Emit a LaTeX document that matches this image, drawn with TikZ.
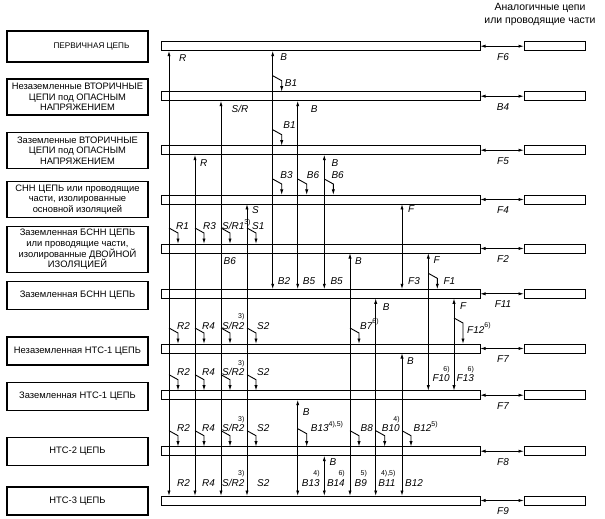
\documentclass[tikz,border=0pt]{standalone}
\usepackage{fontspec}
\setmainfont{Liberation Sans}
\usetikzlibrary{arrows.meta,calc}
\newcount\nn
\newcommand\rs[1]{\raisebox{5.5bp}{\fontsize{7}{7}\selectfont\upshape #1}}
\newcommand\as[1]{\smash{\llap{\raisebox{10.5bp}{\fontsize{7}{7}\selectfont\upshape #1}}}}
\newcommand\lb[4]{\global\advance\nn by 1 \node[lab] (t\the\nn) at ($(#1)+(#2,#3)$) {#4};}
\newcommand\vl[3]{\draw[ln,dtip] (#1 |- #2.south) -- (#1 |- #3.north);}
\newcommand\mk[3]{\draw[ln,tip] ($(#1 |- #2.north)+(0,-#3)$) -- ++(9,5) -- ($(#1 |- #2.north)+(9,0)$);}
\tikzset{
 box/.style={draw, line width=1.2bp, minimum width=141bp, inner sep=1bp, outer sep=0, align=center, font=\fontsize{9.4}{10.6}\selectfont},
 bar/.style={draw, line width=0.9bp, minimum width=319bp, minimum height=9bp, inner sep=0, outer sep=0},
 rbar/.style={bar, minimum width=61bp},
 ln/.style={line width=0.9bp},
 tip/.style={-{Latex[length=5.5bp,width=3.2bp]}},
 dtip/.style={{Latex[length=5.5bp,width=3.2bp]}-{Latex[length=5.5bp,width=3.2bp]}},
 lab/.style={font=\fontsize{10}{10}\selectfont\itshape, inner sep=0, anchor=base west},
 rlab/.style={lab, anchor=base},
}
\begin{document}
\begin{tikzpicture}[x=1bp,y=-1bp]
\useasboundingbox (0,0) rectangle (605,519);
\foreach \i/\x in {1/169,2/195,3/221,4/247,5/272.7,6/297.7,7/324.3,8/350,9/375.7,10/402,11/428.3,12/454}
  \coordinate (c\i) at (\x,0);
\coordinate (rx) at (503,0);

% header
\node[font=\fontsize{10.5}{13}\selectfont, align=center] (hdr) at (540,14.5) {Аналогичные цепи\\или проводящие части};

% left boxes
\node[box, minimum height=31bp, font=\fontsize{8.2}{9.5}\selectfont] (p1) at (77.5,46.5) {\hspace*{28bp}ПЕРВИЧНАЯ ЦЕПЬ};
\node[box, minimum height=36bp] (p2) at (77.5,97) {Незаземленные ВТОРИЧНЫЕ\\ЦЕПИ под ОПАСНЫМ\\НАПРЯЖЕНИЕМ};
\node[box, minimum height=36bp] (p3) at (77.5,150.5) {Заземленные ВТОРИЧНЫЕ\\ЦЕПИ под ОПАСНЫМ\\НАПРЯЖЕНИЕМ};
\node[box, minimum height=36bp] (p4) at (77.5,199.5) {СНН ЦЕПЬ или проводящие\\части, изолированные\\основной изоляцией};
\node[box, minimum height=46bp] (p5) at (77.5,249.5) {Заземленная БСНН ЦЕПЬ\\или проводящие части,\\изолированные ДВОЙНОЙ\\ИЗОЛЯЦИЕЙ};
\node[box, minimum height=28bp] (p6) at (77.5,295.5) {Заземленная БСНН ЦЕПЬ};
\node[box, minimum height=28bp] (p7) at (77.5,351) {Незаземленная НТС-1 ЦЕПЬ};
\node[box, minimum height=28bp] (p8) at (77.5,396.5) {Заземленная НТС-1 ЦЕПЬ};
\node[box, minimum height=28bp] (p9) at (77.5,451.5) {НТС-2 ЦЕПЬ};
\node[box, minimum height=28bp] (p10) at (77.5,501) {НТС-3 ЦЕПЬ};

% bars
\foreach \i/\y/\t in {1/46.2/F6,2/96.2/B4,3/150.2/F5,4/199.5/F4,5/248.5/F2,6/293.8/F11,7/348.5/F7,8/395.2/F7,9/451.2/F8,10/500.5/F9}{
  \node[bar] (b\i) at (320.5,\y) {};
  \node[rbar] (r\i) at (554.5,\y) {};
  \draw[ln,dtip] (b\i.east) -- (r\i.west);
  \node[rlab] (f\i) at ($(rx |- b\i.south)+(0,9.5)$) {\t};
}

% vertical connectors
\vl{c1}{b1}{b10}
\vl{c2}{b3}{b10}
\vl{c3}{b2}{b10}
\vl{c4}{b4}{b10}
\vl{c5}{b1}{b6}
\vl{c6}{b2}{b6}
\vl{c7}{b3}{b6}
\vl{c8}{b5}{b10}
\vl{c9}{b6}{b10}
\vl{c10}{b4}{b6}
\vl{c10}{b7}{b10}
\vl{c11}{b5}{b8}
\vl{c12}{b6}{b8}
\vl{c6}{b8}{b10}
\vl{c7}{b9}{b10}

% labels below upper ends
\lb{c1 |- b1.south}{10}{11}{R}
\lb{c5 |- b1.south}{7.5}{10}{B}
\lb{c3 |- b2.south}{10.5}{11.5}{S/R}
\lb{c6 |- b2.south}{13}{11.5}{B}
\lb{c2 |- b3.south}{5}{12}{R}
\lb{c7 |- b3.south}{7}{11.5}{B}
\lb{c4 |- b4.south}{5}{9.5}{S}
\lb{c10 |- b4.south}{6}{9}{F}
\lb{c8 |- b5.south}{5}{11.5}{B}
\lb{c11 |- b5.south}{5}{10.5}{F}
\lb{c3 |- b5.south}{2.5}{11.5}{B6}
\lb{c9 |- b6.south}{7}{12}{B}
\lb{c12 |- b6.south}{6}{11}{F}
\lb{c10 |- b7.south}{5}{11.5}{B}
\lb{c6 |- b8.south}{5}{15.5}{B}
\lb{c7 |- b9.south}{5}{10}{B}

% labels above lower ends
\lb{c5 |- b6.north}{5}{-5}{B2}
\lb{c6 |- b6.north}{5}{-5}{B5}
\lb{c7 |- b6.north}{6}{-5}{B5}
\lb{c10 |- b6.north}{6}{-5}{F3}
\lb{c11 |- b8.north}{4}{-9}{F10\as{6)}}
\lb{c12 |- b8.north}{2.5}{-9}{F13\as{6)}}
\lb{c1 |- b10.north}{8}{-10}{R2}
\lb{c2 |- b10.north}{7}{-10}{R4}
\lb{c3 |- b10.north}{1}{-10}{S/R2\as{3)}}
\lb{c4 |- b10.north}{10}{-10}{S2}
\lb{c6 |- b10.north}{4}{-10}{B13\as{4)}}
\lb{c7 |- b10.north}{2.5}{-10}{B14\as{6)}}
\lb{c8 |- b10.north}{4.5}{-10}{B9\as{5)}}
\lb{c9 |- b10.north}{2.5}{-10}{B11\as{4),5)}}
\lb{c10 |- b10.north}{3}{-10}{B12}

% branch markers
\mk{c5}{b2}{16} \lb{c5 |- b2.north}{12}{-5}{B1}
\mk{c5}{b3}{16} \lb{c5 |- b3.north}{10.5}{-17}{B1}
\mk{c5}{b4}{16} \lb{c5 |- b4.north}{7.5}{-16.5}{B3}
\mk{c6}{b4}{16} \lb{c6 |- b4.north}{9}{-16.5}{B6}
\mk{c7}{b4}{16} \lb{c7 |- b4.north}{7}{-16.5}{B6}
\mk{c1}{b5}{16} \lb{c1 |- b5.north}{7}{-14}{R1}
\mk{c2}{b5}{16} \lb{c2 |- b5.north}{8}{-14}{R3}
\mk{c3}{b5}{16} \lb{c3 |- b5.north}{1}{-14}{S/R1\rs{3)}}
\mk{c4}{b5}{16} \lb{c4 |- b5.north}{5}{-14}{S1}
\mk{c11}{b6}{16} \lb{c11 |- b6.north}{15}{-5}{F1}
\foreach \b in {b7,b8,b9}{
  \mk{c1}{\b}{16} \lb{c1 |- \b.north}{8}{-15}{R2}
  \mk{c2}{\b}{16} \lb{c2 |- \b.north}{7}{-15}{R4}
  \mk{c3}{\b}{16} \lb{c3 |- \b.north}{1}{-15}{S/R2\as{3)}}
  \mk{c4}{\b}{16} \lb{c4 |- \b.north}{10}{-15}{S2}
}
\mk{c8}{b7}{16} \lb{c8 |- b7.north}{10}{-15}{B7\rs{6)}}
\mk{c12}{b7}{26} \lb{c12 |- b7.north}{13}{-11}{F12\rs{6)}}
\mk{c6}{b9}{18} \lb{c6 |- b9.north}{13}{-15}{B13\rs{4),5)}}
\mk{c8}{b9}{16} \lb{c8 |- b9.north}{10.5}{-15}{B8}
\mk{c9}{b9}{16} \lb{c9 |- b9.north}{6}{-15}{B10\as{4)}}
\mk{c10}{b9}{16} \lb{c10 |- b9.north}{11.5}{-15}{B12\rs{5)}}
\end{tikzpicture}
\end{document}
